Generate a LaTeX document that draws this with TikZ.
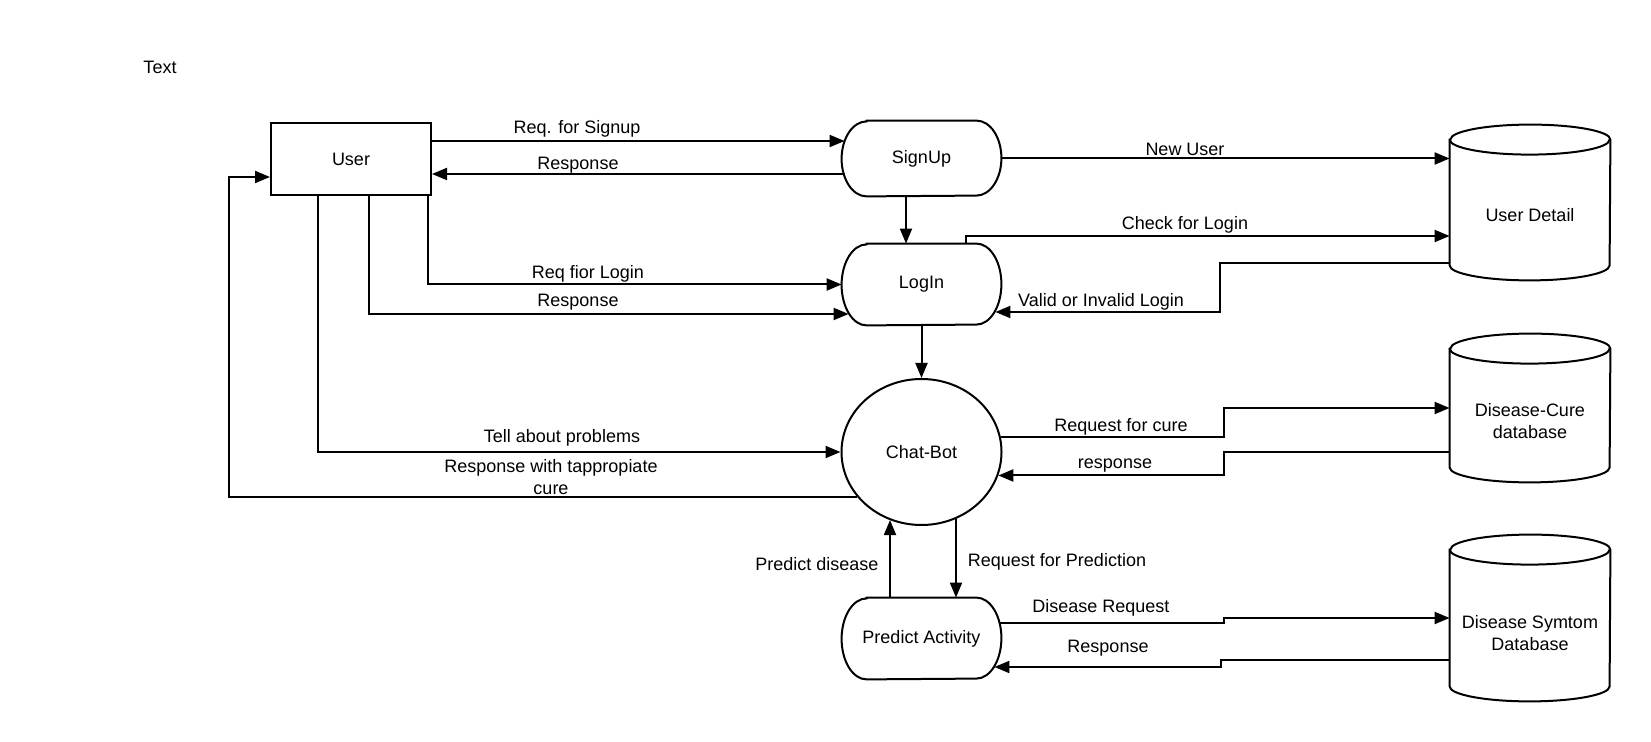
\documentclass[tikz,border=0pt]{standalone}
\usepackage{fontspec}
\setmainfont{Liberation Sans}
\usetikzlibrary{arrows.meta,calc,shapes.geometric}

% outline of a process node: straight top/bottom, half-ellipse sides
\newcommand\procoutline[2]{%
  \draw[outline] ($(#1.north west)+(25,0)$) -- ($(#1.north east)+(-25,0)$)
    arc[start angle=90,end angle=-90,x radius=12.5pt,y radius=#2]
    -- ($(#1.south west)+(25,0)$)
    arc[start angle=270,end angle=90,x radius=12.5pt,y radius=#2] -- cycle;}
% outline of a data store drawn as a cylinder
\newcommand\dboutline[1]{%
  \draw[outline] ($(#1.north west)+(0,15)$) -- ($(#1.south west)+(0,-15)$)
    arc[start angle=180,end angle=360,x radius=40pt,y radius=7.5pt]
    -- ($(#1.north east)+(0,15)$)
    arc[start angle=0,end angle=180,x radius=40pt,y radius=7.5pt] -- cycle;
  \draw[outline] ($(#1.north west)+(0,15)$)
    arc[start angle=180,end angle=360,x radius=40pt,y radius=7.5pt];}

\begin{document}
\begin{tikzpicture}[x=0.5pt,y=-0.5pt,
  font=\fontsize{9}{10.8}\selectfont,
  flow/.style={line width=1pt,-{Triangle[length=7.5pt,width=6pt]}},
  outline/.style={line width=1pt},
  entity/.style={draw,line width=1pt,minimum width=80pt,minimum height=36pt,inner sep=0pt},
  procbox/.style={minimum width=79.5pt,inner sep=0pt},
  dbbox/.style={minimum width=80pt,inner sep=0pt},
  lbl/.style={inner sep=0pt,align=center}
]
\fill[white] (0,0) rectangle (1651,742);
\useasboundingbox (0,0) rectangle (1651,742);

\node[lbl] (title) at (160,67) {Text};

% nodes
\node[entity] (user) at (351,159) {User};
\node[procbox,minimum height=37.5pt] (signup) at (921.5,158.5) {SignUp};
\node[procbox,minimum height=40.5pt] (login) at (921.5,284.5) {LogIn};
\node[draw,ellipse,line width=1pt,minimum width=80pt,minimum height=73pt,inner sep=0pt] (chatbot) at (921.5,452) {Chat-Bot};
\node[procbox,minimum height=40.5pt] (predict) at (921.5,638.5) {Predict Activity};
\procoutline{signup}{18.75pt}
\procoutline{login}{20.25pt}
\procoutline{predict}{20.25pt}

% data stores
\node[dbbox,minimum height=77.5pt] (userdb) at (1530,202.5) {};
\node[dbbox,minimum height=74pt] (curedb) at (1530,408) {};
\node[dbbox,minimum height=83pt] (symdb) at (1530,618) {};
\dboutline{userdb}
\dboutline{curedb}
\dboutline{symdb}
\node[lbl] (userdbtxt) at ($(userdb.center)+(0,13)$) {User Detail};
\node[lbl] (curedbtxt) at ($(curedb.center)+(0,13)$) {Disease-Cure\\database};
\node[lbl] (symdbtxt) at ($(symdb.center)+(0,15)$) {Disease Symtom\\Database};

% user <-> signup
\coordinate (a1) at ($(user.east)+(0,-18)$);
\draw[flow] (a1) -- ([xshift=1.5pt]a1 -| signup.west);
\coordinate (a2) at ($(user.east)+(0,15)$);
\draw[flow] ([xshift=1.5pt]a2 -| signup.west) -- (a2);
% signup -> login
\coordinate (a3) at ($(signup.south)+(-15.5,0)$);
\draw[flow] (a3) -- (a3 |- login.north);
% user -> login
\coordinate (a4) at ($(user.south east)+(-4,0)$);
\draw[flow] (a4) |- (login.west);
\coordinate (a5) at ($(user.south)+(18,0)$);
\draw[flow] (a5) |- ($(login.west)+(7,29.5)$);
% user <-> chat-bot
\coordinate (a6) at ($(user.south)+(-33,0)$);
\draw[flow] (a6) |- (chatbot.west);
\draw[flow] (chatbot.215) -| ($(user.west)+(-41,18)$) -- ($(user.west)+(0,18)$);
% signup / login <-> user detail
\draw[flow] (signup.east) -- (signup.east -| userdb.west);
\coordinate (a7) at ($(login.north)+(44.5,0)$);
\draw[flow] (a7) |- ($(userdb.west)+(0,33.5)$);
\coordinate (a8) at ($(userdb.west)+(0,60.5)$);
\coordinate (a9) at ($(login.east)+(-6,27.5)$);
\draw[flow] (a8) -| ($(a9)+(224.5,0)$) -- (a9);
% login -> chat-bot
\draw[flow] (login.south) -- (chatbot.north);
% chat-bot <-> disease-cure
\coordinate (b1) at (chatbot.11);
\coordinate (b2) at (chatbot.-17);
\coordinate (b3) at ($(curedb.west)+(-226,0)$);
\draw[flow] (b1) -| (b3) -- (curedb.west);
\draw[flow] ($(curedb.west)+(0,44)$) -| (b3 |- b2) -- (b2);
% chat-bot <-> predict activity
\coordinate (c1) at ($(predict.north)+(-31.5,0)$);
\draw[flow] (c1) -- (c1 |- chatbot.-115);
\coordinate (c2) at ($(predict.north)+(34.5,0)$);
\draw[flow] (c2 |- chatbot.-62) -- (c2);
% predict activity <-> symptom database
\coordinate (c3) at ($(predict.east)+(-2,-15.5)$);
\coordinate (c4) at ($(symdb.west)+(-226,0)$);
\draw[flow] (c3) -| (c4) -- (symdb.west);
\coordinate (c5) at ($(predict.east)+(-7,28.5)$);
\coordinate (c6) at ($(symdb.west)+(-229,0)$);
\draw[flow] ($(symdb.west)+(0,42)$) -| (c6 |- c5) -- (c5);

% connector labels
\node[lbl] (l1) at (577,129) {Req. for Signup};
\node[lbl] (l2) at (578,165) {Response};
\node[lbl] (l3) at (588,274) {Req fior Login};
\node[lbl] (l4) at (578,302) {Response};
\node[lbl] (l5) at (562,438) {Tell about problems};
\node[lbl] (l6) at (551,477) {Response with tappropiate\\cure};
\node[lbl] (l7) at (1185,149) {New User};
\node[lbl] (l8) at (1185,225) {Check for Login};
\node[lbl] (l9) at (1101,302) {Valid or Invalid Login};
\node[lbl] (l10) at (1121,427) {Request for cure};
\node[lbl] (l11) at (1115,466) {response};
\node[lbl] (l12) at (817,564) {Predict disease};
\node[lbl] (l13) at (1057,562) {Request for Prediction};
\node[lbl] (l14) at (1101,608) {Disease Request};
\node[lbl] (l15) at (1108,648) {Response};
\end{tikzpicture}
\end{document}
